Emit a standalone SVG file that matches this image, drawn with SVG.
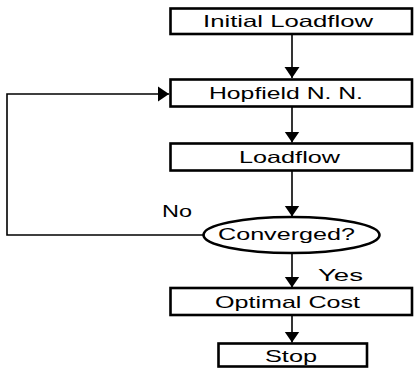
<svg xmlns="http://www.w3.org/2000/svg" width="414" height="368" viewBox="0 0 414 368">
<style>
.box{fill:#fff;stroke:#000;stroke-width:2.6}
.lbl{font-family:"Liberation Sans",Arial,sans-serif;font-size:16.5px;fill:#000}
.con{fill:none;stroke:#000;stroke-width:1.6}
</style>
<defs>
<marker id="ah" markerUnits="userSpaceOnUse" markerWidth="12" markerHeight="16" refX="11" refY="8" orient="auto">
<path d="M0,0.5 L11,8 L0,15.5 Z" fill="#000"/>
</marker>
</defs>
<rect width="414" height="368" fill="#fff"/>
<g id="connectors">
<line class="con" x1="292" y1="34" x2="292" y2="78" marker-end="url(#ah)"/>
<line class="con" x1="292" y1="107" x2="292" y2="142.5" marker-end="url(#ah)"/>
<line class="con" x1="292" y1="171" x2="292" y2="216.5" marker-end="url(#ah)"/>
<line class="con" x1="292" y1="253" x2="292" y2="287.5" marker-end="url(#ah)"/>
<line class="con" x1="292" y1="315" x2="292" y2="342.5" marker-end="url(#ah)"/>
<polyline class="con" points="203.5,235 7,235 7,94 169,94" marker-end="url(#ah)"/>
<text class="lbl" x="162" y="217" textLength="30" lengthAdjust="spacingAndGlyphs">No</text>
<text class="lbl" x="318" y="281" textLength="45" lengthAdjust="spacingAndGlyphs">Yes</text>
</g>
<g id="n-initial">
<rect class="box" x="170.5" y="8.5" width="241.5" height="25.5"/>
<text class="lbl" x="203" y="27" textLength="170" lengthAdjust="spacingAndGlyphs">Initial Loadflow</text>
</g>
<g id="n-hopfield">
<rect class="box" x="170.5" y="79.5" width="241.5" height="27"/>
<text class="lbl" x="209" y="99" textLength="154" lengthAdjust="spacingAndGlyphs">Hopfield N. N.</text>
</g>
<g id="n-loadflow">
<rect class="box" x="170.5" y="143.5" width="241.5" height="27"/>
<text class="lbl" x="239" y="163" textLength="101" lengthAdjust="spacingAndGlyphs">Loadflow</text>
</g>
<g id="n-converged">
<ellipse class="box" cx="291.5" cy="235" rx="88" ry="18"/>
<text class="lbl" x="218" y="240" textLength="137" lengthAdjust="spacingAndGlyphs">Converged?</text>
</g>
<g id="n-optimal">
<rect class="box" x="170.5" y="288" width="241.5" height="27"/>
<text class="lbl" x="215" y="308" textLength="145" lengthAdjust="spacingAndGlyphs">Optimal Cost</text>
</g>
<g id="n-stop">
<rect class="box" x="218.5" y="343.5" width="148.5" height="23"/>
<text class="lbl" x="265" y="362" textLength="52" lengthAdjust="spacingAndGlyphs">Stop</text>
</g>
</svg>
